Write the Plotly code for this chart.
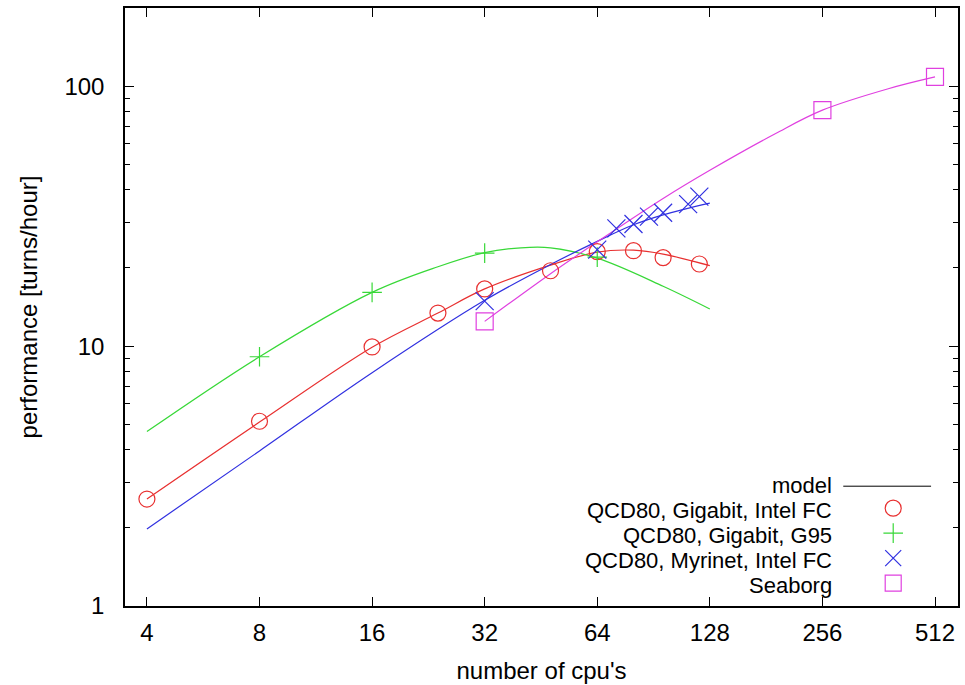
import math
import plotly.graph_objects as go

# ---------------- data ----------------
x_ticks = [4, 8, 16, 32, 64, 128, 256, 512]
x_ticktext = ["4", "8", "16", "32", "64", "128", "256", "512"]
y_ticks = [1, 10, 100]
y_ticktext = ["1", "10", "100"]

series_names = ["QCD80, Gigabit, Intel FC", "QCD80, Gigabit, G95",
                "QCD80, Myrinet, Intel FC", "Seaborg"]

# measured points
gig_intel_x = [4, 8, 16, 24, 32, 48, 64, 80, 96, 120]
gig_intel_y = [2.58, 5.14, 9.93, 13.4, 16.6, 19.5, 23.1, 23.3, 21.9, 20.7]
gig_g95_x = [8, 16, 32, 64]
gig_g95_y = [9.1, 16.1, 22.8, 22.0]
myr_intel_x = [32, 64, 72, 80, 88, 96, 112, 120]
myr_intel_y = [14.9, 23.5, 28.4, 29.5, 31.5, 32.6, 35.2, 37.6]
seaborg_x = [32, 256, 512]
seaborg_y = [12.45, 80.9, 108.6]

# model curves
model_gig_intel_x = [4, 8, 16, 24, 32, 48, 64, 80, 96, 128]
model_gig_intel_y = [2.58, 5.1, 9.9, 13.4, 16.6, 20.5, 23.0, 23.4, 22.6, 20.4]
model_gig_g95_x = [4, 8, 16, 24, 32, 40, 48, 64, 96, 128]
model_gig_g95_y = [4.69, 9.1, 16.1, 20.2, 22.9, 23.9, 23.9, 21.8, 17.0, 13.9]
model_myr_intel_x = [4, 8, 16, 32, 48, 64, 80, 96, 128]
model_myr_intel_y = [1.98, 3.95, 7.9, 15.0, 20.6, 25.3, 29.3, 32.0, 35.5]
model_seaborg_x = [32, 48, 64, 96, 128, 192, 256, 384, 512]
model_seaborg_y = [12.45, 19.0, 25.2, 37.0, 47.5, 65.8, 80.9, 97.8, 108.6]

# ---------------- style ----------------
FONT = "Liberation Sans, Arial, sans-serif"
colors = ["#e83030", "#38d838", "#3030e0", "#e040e0"]
symbols = ["circle-open", "cross-thin-open", "x-thin-open", "square-open"]
msizes = [16, 14, 18, 17]

points = [(gig_intel_x, gig_intel_y), (gig_g95_x, gig_g95_y),
          (myr_intel_x, myr_intel_y), (seaborg_x, seaborg_y)]
models = [(model_gig_intel_x, model_gig_intel_y), (model_gig_g95_x, model_gig_g95_y),
          (model_myr_intel_x, model_myr_intel_y), (model_seaborg_x, model_seaborg_y)]

fig = go.Figure()
for (mx, my), c in zip(models, colors):
    fig.add_trace(go.Scatter(x=mx, y=my, mode="lines",
                             line=dict(color=c, width=1.2, shape="spline", smoothing=1.0),
                             showlegend=False, hoverinfo="skip"))
for (px, py), c, s, ms, nm in zip(points, colors, symbols, msizes, series_names):
    fig.add_trace(go.Scatter(x=px, y=py, mode="markers", name=" ",
                             marker=dict(symbol=s, size=ms, color=c,
                                         line=dict(color=c, width=1.2)),
                             hovertext=nm, showlegend=True))

# geometry helpers (pixel -> paper), plot area 125..960 x 8..607
L, R, T, B = 125, 960, 8, 607
def px_x(p):
    return (p - L) / (R - L)
def px_y(p):
    return (B - p) / (B - T)

row_y = [486, 511, 536, 561, 586]
legend_texts = ["model"] + series_names
annotations = []
for ty, txt in zip(row_y, legend_texts):
    annotations.append(dict(x=px_x(835), y=px_y(ty), xref="paper", yref="paper",
                            text=txt, showarrow=False, xanchor="right", yanchor="middle",
                            borderpad=0,
                            font=dict(family=FONT, size=22, color="black")))

shapes = [dict(type="line", xref="paper", yref="paper",
               x0=px_x(845), x1=px_x(933), y0=px_y(487), y1=px_y(487),
               line=dict(color="black", width=1))]

xr = [math.log10(3.495), math.log10(589.9)]
yr = [0, math.log10(200)]

fig.update_layout(
    width=965, height=685,
    margin=dict(l=L, r=965 - R, t=T, b=685 - B),
    paper_bgcolor="white", plot_bgcolor="white",
    font=dict(family=FONT, size=24, color="black"),
    annotations=annotations, shapes=shapes,
    legend=dict(x=px_x(875), y=px_y(491.5), xanchor="left", yanchor="top",
                bgcolor="rgba(0,0,0,0)", font=dict(size=16.9), tracegroupgap=0),
    xaxis=dict(type="log", range=xr, tickvals=x_ticks, ticktext=x_ticktext,
               ticks="inside", ticklen=9, tickwidth=1.2, tickcolor="black",
               showline=True, linecolor="black", linewidth=1.5, mirror="ticks",
               showgrid=False, zeroline=False, ticklabelstandoff=4,
               tickfont=dict(family=FONT, size=24, color="black"),
               title=dict(text="number of cpu's", standoff=18,
                          font=dict(family=FONT, size=24, color="black"))),
    yaxis=dict(type="log", range=yr, tickvals=y_ticks, ticktext=y_ticktext,
               ticks="inside", ticklen=9, tickwidth=1.2, tickcolor="black",
               showline=True, linecolor="black", linewidth=1.5, mirror="ticks",
               showgrid=False, zeroline=False, ticklabelstandoff=14,
               minor=dict(dtick="D1", ticks="inside", ticklen=5, tickwidth=1.2,
                          tickcolor="black", showgrid=False),
               tickfont=dict(family=FONT, size=24, color="black"),
               title=dict(text="performance [turns/hour]", standoff=20,
                          font=dict(family=FONT, size=24, color="black"))),
)

fig.write_html("out.html")
